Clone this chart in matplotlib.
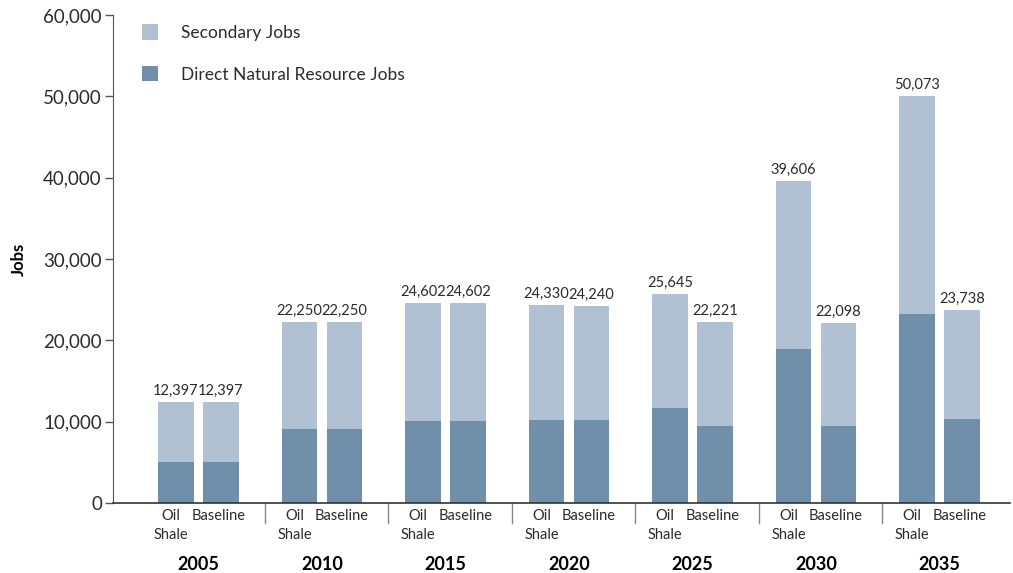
import numpy as np
import matplotlib
matplotlib.use("Agg")
import matplotlib.pyplot as plt
import matplotlib.transforms as mtransforms
from matplotlib.patches import Patch

# Data
years = ["2005", "2010", "2015", "2020", "2025", "2030", "2035"]
scenarios = ["Oil\nShale", "Baseline"]
total_oil_shale = [12397, 22250, 24602, 24330, 25645, 39606, 50073]
total_baseline = [12397, 22250, 24602, 24240, 22221, 22098, 23738]
direct_oil_shale = [5000, 9050, 10100, 10200, 11650, 18900, 23200]
direct_baseline = [5000, 9050, 10100, 10200, 9500, 9500, 10300]

light = "#b1c1d4"
dark = "#6f8fab"
text_color = "#2b2b2b"

plt.rcParams["font.family"] = ["Lato", "DejaVu Sans"]

fig = plt.figure(figsize=(10.13, 5.73), dpi=100)
ax = fig.add_axes([113 / 1013, 70 / 573, 897 / 1013, 488 / 573])

x = np.arange(len(years))
offset = 0.182
width = 0.285

pos_oil = x - offset
pos_base = x + offset

sec_oil = np.array(total_oil_shale) - np.array(direct_oil_shale)
sec_base = np.array(total_baseline) - np.array(direct_baseline)

ax.bar(pos_oil, direct_oil_shale, width, color=dark, zorder=2)
ax.bar(pos_oil, sec_oil, width, bottom=direct_oil_shale, color=light, zorder=2)
ax.bar(pos_base, direct_baseline, width, color=dark, zorder=2)
ax.bar(pos_base, sec_base, width, bottom=direct_baseline, color=light, zorder=2)

# Totals above each bar
for px, v in zip(pos_oil, total_oil_shale):
    ax.annotate(f"{v:,}", (px, v), xytext=(0, 3), textcoords="offset points",
                ha="center", va="bottom", fontsize=10.5, color=text_color)
for px, v in zip(pos_base, total_baseline):
    ax.annotate(f"{v:,}", (px, v), xytext=(0, 3), textcoords="offset points",
                ha="center", va="bottom", fontsize=10.5, color=text_color)

ax.set_xlim(-0.692, 6.571)
ax.set_ylim(0, 60000)

# y axis
ax.set_yticks(np.arange(0, 60001, 10000))
ax.set_yticklabels([f"{int(t):,}" for t in np.arange(0, 60001, 10000)],
                   fontsize=13.5, color=text_color)
ax.tick_params(axis="y", direction="out", length=6, width=1, color="#555555", pad=2)
ax.set_ylabel("Jobs", fontsize=12, fontweight="bold", color="black", labelpad=12)

# x axis: scenario labels under each bar
tick_pos = np.ravel(np.column_stack([pos_oil - 0.04, pos_base - 0.02]))
tick_lab = scenarios * len(years)
ax.set_xticks(tick_pos)
ax.set_xticklabels(tick_lab, fontsize=10.5, color=text_color, va="top",
                   linespacing=1.45, multialignment="center")
ax.tick_params(axis="x", length=0, pad=4)

for s in ["top", "right"]:
    ax.spines[s].set_visible(False)
ax.spines["left"].set_color("#555555")
ax.spines["bottom"].set_color("#333333")
ax.spines["bottom"].set_linewidth(1.2)

trans = mtransforms.blended_transform_factory(ax.transData, ax.transAxes)
# group separators
for i in range(len(years) - 1):
    sx = i + 0.535
    ax.plot([sx, sx], [0, -0.042], transform=trans, color="#888888", lw=1, clip_on=False)

# year labels
for i, yr in enumerate(years):
    ax.text(i, -0.125, yr, transform=trans, ha="center", va="center",
            fontsize=13, fontweight="bold", color="black")

handles = [Patch(facecolor=light, label="Secondary Jobs"),
           Patch(facecolor=dark, label="Direct Natural Resource Jobs")]
fig.legend(handles=handles, loc="upper left", bbox_to_anchor=(142 / 1013, 1 - 24 / 573),
           frameon=False, fontsize=12.5, labelspacing=1.45, handlelength=0.95,
           handleheight=1.0, handletextpad=1.3, labelcolor=text_color,
           borderpad=0, borderaxespad=0)

fig.savefig("out.png", dpi=100, facecolor="white")
